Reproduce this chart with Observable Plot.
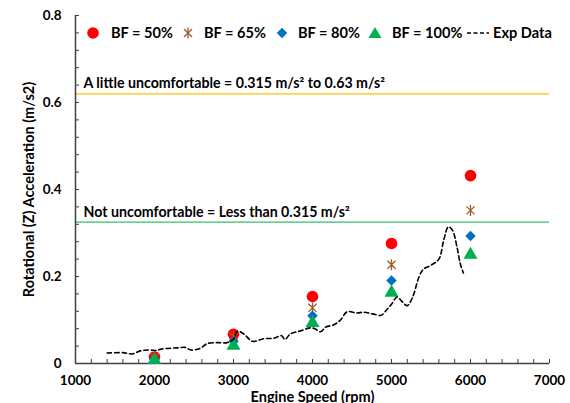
<!DOCTYPE html>
<html>
<head>
<meta charset="utf-8">
<script src="https://cdn.jsdelivr.net/npm/d3@7"></script>
<script src="https://cdn.jsdelivr.net/npm/@observablehq/plot@0.6"></script>
<style>
  html, body { margin: 0; padding: 0; background: #fff; }
  #wrap { position: relative; width: 570px; height: 403px; overflow: hidden; font-family: Lato, "Open Sans", sans-serif; }
  #legend { position: absolute; top: 0; left: 0; width: 570px; height: 60px; font-weight: bold; font-size: 14.6px; color: #000; white-space: nowrap; }
  #legend .icon { position: absolute; top: 25px; display: block; }
  #legend .lab { position: absolute; top: 24px; line-height: 18px; }
</style>
</head>
<body>
<div id="wrap">
  <div id="chart"></div>
  <div id="legend"></div>
</div>
<script>
// ---- data ----
const rpm = [2000, 3000, 4000, 5000, 6000];
const bf50 = [0.015, 0.067, 0.154, 0.276, 0.432];
const bf65 = [0.013, 0.062, 0.128, 0.227, 0.352];
const bf80 = [0.011, 0.051, 0.110, 0.191, 0.293];
const bf100 = [0.008, 0.041, 0.093, 0.163, 0.250];

const expRpm = [1400, 1600, 1720, 1820, 1930, 2030, 2080, 2290, 2390, 2460, 2580, 2670, 2800, 2920, 3000, 3050, 3130, 3240, 3380, 3510, 3610, 3650, 3720, 3850, 3970, 4030, 4100, 4170, 4270, 4350, 4440, 4560, 4650, 4760, 4870, 4950, 5000, 5070, 5135, 5200, 5262, 5350, 5400, 5490, 5600, 5660, 5720, 5770, 5830, 5870, 5910];
const expVal = [0.024, 0.025, 0.022, 0.029, 0.031, 0.030, 0.033, 0.036, 0.037, 0.031, 0.035, 0.046, 0.048, 0.048, 0.056, 0.074, 0.068, 0.051, 0.057, 0.058, 0.064, 0.055, 0.068, 0.075, 0.082, 0.080, 0.073, 0.084, 0.089, 0.099, 0.119, 0.116, 0.118, 0.114, 0.111, 0.126, 0.136, 0.153, 0.142, 0.133, 0.150, 0.200, 0.216, 0.225, 0.240, 0.283, 0.314, 0.307, 0.267, 0.230, 0.208];

const limitValues = [0.62, 0.325];
const limitLabels = ["A little uncomfortable = 0.315 m/s² to 0.63 m/s²", "Not uncomfortable = Less than 0.315 m/s²"];
const limitColors = ["#FFC000", "#3DBB6C"];

const seriesNames = ["BF = 50%", "BF = 65%", "BF = 80%", "BF = 100%", "Exp Data"];
const xTicks = [1000, 2000, 3000, 4000, 5000, 6000, 7000];
const yTicks = [0, 0.2, 0.4, 0.6, 0.8];

// ---- styles ----
const C_RED = "#FF0000", C_BROWN = "#A0582C", C_BLUE = "#0070C0", C_GREEN = "#00B050";
const star6 = {
  draw(ctx, size) {
    const h = Math.sqrt(size / Math.PI);
    const a = h * 0.72;
    ctx.moveTo(0, -h); ctx.lineTo(0, h);
    ctx.moveTo(-a, -a); ctx.lineTo(a, a);
    ctx.moveTo(-a, a); ctx.lineTo(a, -a);
  }
};

const mk = (vals) => rpm.map((r, i) => ({rpm: r, v: vals[i]}));
const expData = expRpm.map((r, i) => ({rpm: r, v: expVal[i]}));
const limits = limitValues.map((v, i) => ({v, label: limitLabels[i], color: limitColors[i], x: 1000}));

const font = "Lato, 'Open Sans', sans-serif";

const chart = Plot.plot({
  width: 570,
  height: 403,
  marginLeft: 75,
  marginRight: 21,
  marginTop: 15,
  marginBottom: 40,
  style: {fontFamily: font, fontWeight: "bold", fontSize: "13px", color: "#000", background: "#fff"},
  x: {domain: [1000, 7000]},
  y: {domain: [0, 0.8]},
  marks: [
    // limit lines
    Plot.ruleY(limits, {y: "v", x1: 1000, x2: 7000, stroke: "color", strokeWidth: 1.3}),
    Plot.text(limits, {x: "x", y: "v", text: "label", textAnchor: "start", dx: 8, dy: -10, fontSize: 14.2, fontWeight: "bold", fill: "#000"}),
    // minor ticks (inside)
    Plot.axisY({ticks: d3.range(0, 0.801, 0.04), tickSize: 4, dx: 4, tickFormat: () => "", label: null, stroke: "#404040"}),
    Plot.axisX({ticks: d3.range(1000, 7001, 200), tickSize: 4, dy: -4, tickFormat: () => "", label: null, stroke: "#404040"}),
    // labels
    Plot.axisY({ticks: yTicks, tickSize: 0, tickPadding: 14, tickFormat: d => d === 0 ? "0" : d3.format(".1f")(d), fontSize: 13.5,
      label: "Rotational (Z) Acceleration (m/s2)", labelAnchor: "center", labelArrow: "none", labelOffset: 52}),
    Plot.axisX({ticks: xTicks, tickSize: 0, tickPadding: 12, tickFormat: d => String(d), fontSize: 13.5,
      label: "Engine Speed (rpm)", labelAnchor: "center", labelArrow: "none", labelOffset: 38}),
    // axis lines
    Plot.ruleX([1000], {stroke: "#404040", strokeWidth: 1.5}),
    Plot.ruleY([0], {stroke: "#404040", strokeWidth: 1.5}),
    // series
    Plot.dot(mk(bf50), {x: "rpm", y: "v", r: 5.8, symbol: "circle", fill: C_RED}),
    Plot.dot(mk(bf65), {x: "rpm", y: "v", r: 5.6, symbol: star6, stroke: C_BROWN, strokeWidth: 1.3, fill: "none"}),
    Plot.dot(mk(bf80), {x: "rpm", y: "v", r: 4.2, symbol: "square", rotate: 45, fill: C_BLUE}),
    Plot.dot(mk(bf100), {x: "rpm", y: "v", r: 5.2, symbol: "triangle", fill: C_GREEN}),
    Plot.line(expData, {x: "rpm", y: "v", curve: "catmull-rom", stroke: "#000", strokeWidth: 1.6, strokeDasharray: "4.5,3"})
  ]
});
document.getElementById("chart").appendChild(chart);

d3.select(chart).selectAll("g[aria-label='y-axis label'] text, g[aria-label='x-axis label'] text").style("font-size", "14.5px");

// ---- legend (HTML overlay) ----
const icons = [
  `<svg width="16" height="16"><circle cx="8" cy="8" r="5.8" fill="${C_RED}"/></svg>`,
  `<svg width="16" height="16"><g stroke="${C_BROWN}" stroke-width="1.3"><line x1="8" y1="2.4" x2="8" y2="13.6"/><line x1="4" y1="4" x2="12" y2="12"/><line x1="4" y1="12" x2="12" y2="4"/></g></svg>`,
  `<svg width="16" height="16"><rect x="4.3" y="4.3" width="7.4" height="7.4" fill="${C_BLUE}" transform="rotate(45 8 8)"/></svg>`,
  `<svg width="16" height="16"><polygon points="8,2 14.5,13 1.5,13" fill="${C_GREEN}"/></svg>`,
  `<svg width="24" height="16"><line x1="1" y1="8" x2="23" y2="8" stroke="#000" stroke-width="1.6" stroke-dasharray="4,2.5"/></svg>`
];
const iconLeft = [85, 180, 274, 367, 466];
const textLeft = [111, 204, 298, 392, 493];
const legend = document.getElementById("legend");
seriesNames.forEach((name, i) => {
  const ic = document.createElement("div");
  ic.className = "icon";
  ic.style.left = iconLeft[i] + "px";
  ic.innerHTML = icons[i];
  legend.appendChild(ic);
  const t = document.createElement("div");
  t.className = "lab";
  t.style.left = textLeft[i] + "px";
  t.textContent = name;
  legend.appendChild(t);
});
</script>
</body>
</html>
